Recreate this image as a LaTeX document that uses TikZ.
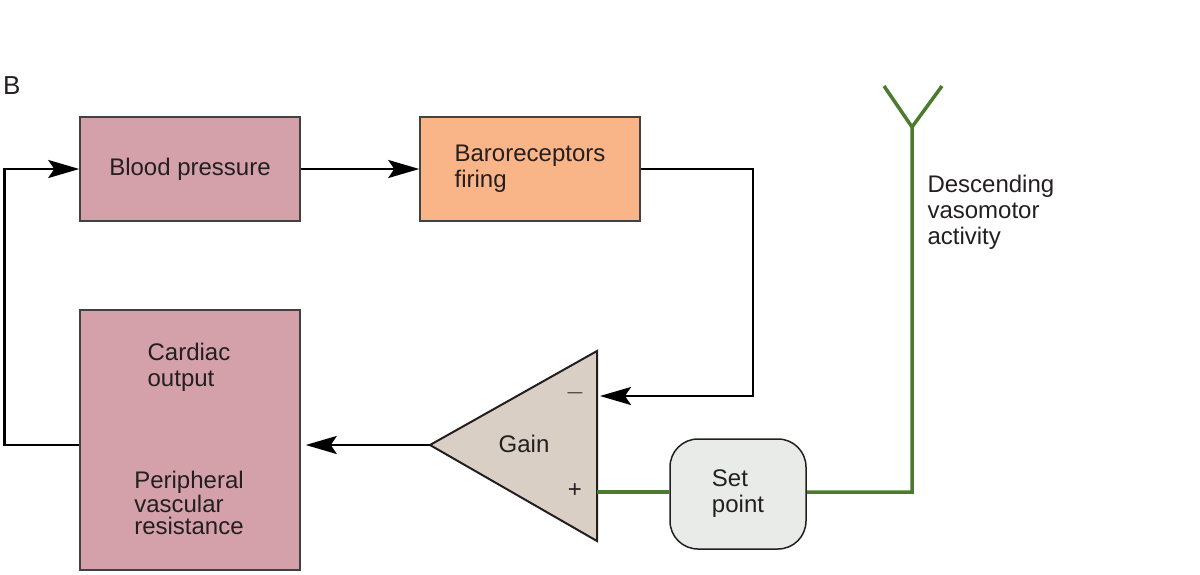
\documentclass[tikz,border=0pt]{standalone}
\usepackage{fontspec}
\setmainfont{Liberation Sans}
\usetikzlibrary{arrows.meta,positioning,calc}
\definecolor{bpcol}{HTML}{D4A1AB}
\definecolor{barocol}{HTML}{F9B487}
\definecolor{gaincol}{HTML}{D9CFC4}
\definecolor{setcol}{HTML}{E9EBE9}
\definecolor{vasocol}{HTML}{4C7A2F}
\definecolor{inkcol}{HTML}{231F20}
\begin{document}
\begin{tikzpicture}[x=1pt,y=-1pt,
    lbl/.style={font=\fontsize{24}{26}\selectfont, text=inkcol},
    box/.style={lbl, draw=inkcol!85, line width=1.5pt, minimum width=220pt},
    arr/.style={line width=2.5pt, -{Stealth[length=31pt,width=18pt,inset=6pt]}},
    vaso/.style={line width=3.5pt, draw=vasocol}]
    \useasboundingbox (0,0) rectangle (1200,574);
    % panel letter
    \node[lbl, anchor=west, inner sep=0pt, font=\fontsize{26}{28}\selectfont] (panel) at (3,86) {B};
    % blocks
    \node[box, fill=bpcol, minimum height=104pt] (bp) at (190,169) {Blood pressure};
    \node[box, fill=barocol, minimum height=104pt, align=left] (baro) at (530,169) {Baroreceptors\\firing};
    \node[box, fill=bpcol, minimum height=260pt] (co) at (190,440) {};
    \node[lbl, align=left] (cardiac) at (189,367) {Cardiac\\output};
    \node[lbl, align=left, font=\fontsize{24}{22}\selectfont] (pvr) at (189,503) {Peripheral\\vascular\\resistance};
    % gain
    \coordinate (gtip) at (430,445);
    \coordinate (gtop) at (597,351);
    \coordinate (gbot) at (597,541);
    \coordinate (gminus) at (600,396);
    \coordinate (gplus) at (597,492);
    \draw[fill=gaincol, draw=inkcol, line width=2pt, line join=miter] (gtip) -- (gtop) -- (gbot) -- cycle;
    \node[lbl] (gain) at (524,444) {Gain};
    \node[lbl] (minus) at (575,393) {$-$};
    \node[lbl] (plus) at (575,491) {+};
    % set point
    \node[box, fill=setcol, draw=inkcol, minimum width=136pt, minimum height=110pt, rounded corners=28pt, align=left] (sp) at (738,494) {Set\\point};
    % descending input
    \coordinate (fork) at (912,127);
    \coordinate (armL) at (884,86);
    \coordinate (armR) at (942,86);
    \node[lbl, align=left, anchor=north west] (desc) at (924,172) {Descending\\vasomotor\\activity};
    % connectors
    \draw[arr] (bp) -- (baro);
    \draw[arr] (baro.east) -- ++(112,0) |- (gminus);
    \draw[arr] (gtip) -- ($(gtip -| co.east)+(5,0)$);
    \draw[arr] (co.west |- gtip) -- ++(-75,0) |- (bp.west);
    \draw[vaso] (gplus) -- (sp.west |- gplus);
    \draw[vaso] (sp.east |- gplus) -| (fork) -- (armL);
    \draw[vaso] (fork) -- (armR);
\end{tikzpicture}
\end{document}
